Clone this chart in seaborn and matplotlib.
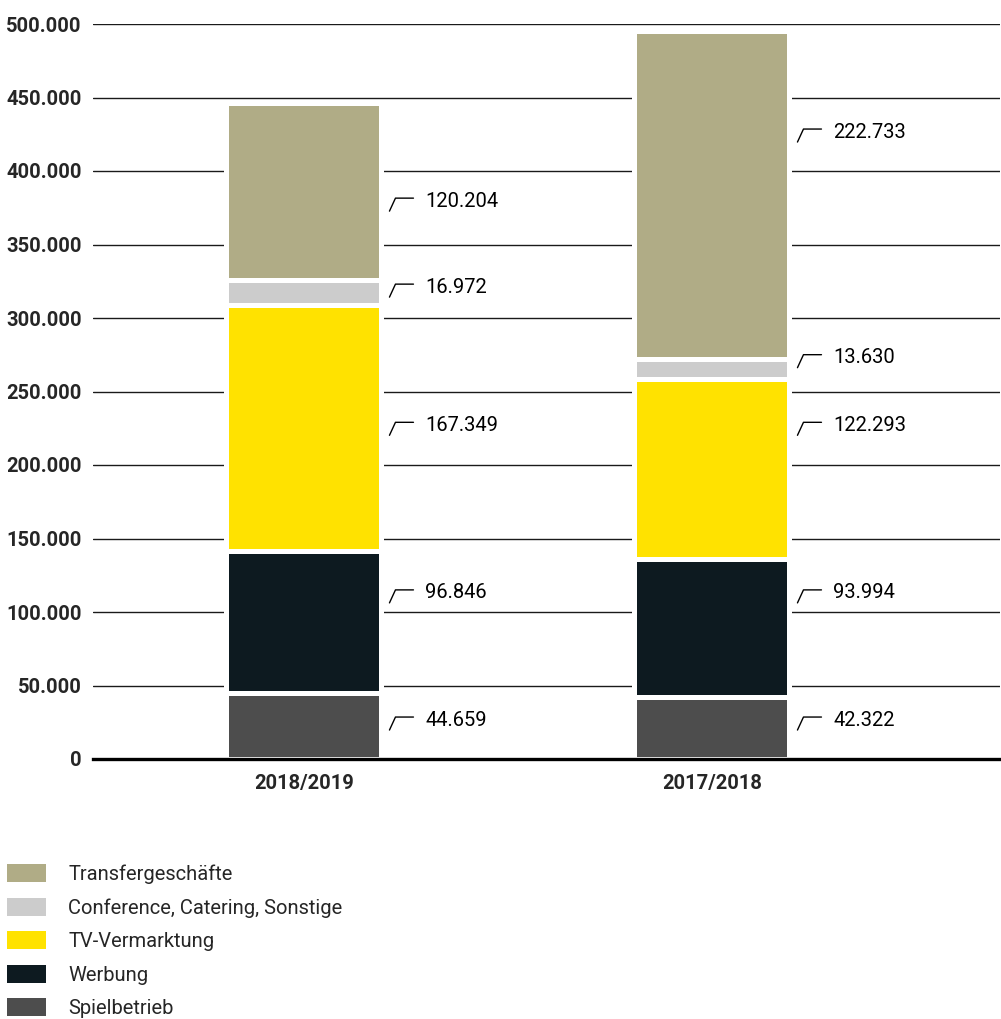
import numpy as np
import pandas as pd
import matplotlib
matplotlib.use("Agg")
import matplotlib.pyplot as plt
import matplotlib.transforms as mtransforms
from matplotlib.patches import Patch
import seaborn as sns

# ---------------- data ----------------
seasons = ["2018/2019", "2017/2018"]
categories = ["Spielbetrieb", "Werbung", "TV-Vermarktung",
              "Conference, Catering, Sonstige", "Transfergeschäfte"]
values_2018_2019 = [44659, 96846, 167349, 16972, 120204]
values_2017_2018 = [42322, 93994, 122293, 13630, 222733]
# vertical anchor of each value label (data units)
label_y_2018_2019 = [26500, 113000, 227000, 321000, 379500]
label_y_2017_2018 = [26500, 113000, 227000, 273000, 426500]
colors = ["#4d4d4d", "#0d1a20", "#ffe200", "#cccccc", "#b0ac86"]
yticks = list(range(0, 500001, 50000))

# ---------------- style ----------------
sns.set_style("white")
plt.rcParams["font.family"] = ["Roboto", "DejaVu Sans"]

W, H, DPI = 1001, 1019, 100
fig = plt.figure(figsize=(W / DPI, H / DPI), dpi=DPI)
ax = fig.add_axes([93 / W, 1 - 759 / H, (1000 - 93) / W, (759 - 24) / H])

rows = []
for s, vals in zip(seasons, [values_2018_2019, values_2017_2018]):
    cum = np.cumsum(vals)
    for c, v, cv in zip(categories, vals, cum):
        rows.append(dict(season=s, category=c, value=v, cum=cv))
df = pd.DataFrame(rows)

bar_w = 0.38
# draw cumulative bars from top category down so they stack
for c, col in reversed(list(zip(categories, colors))):
    sub = df[df.category == c]
    sns.barplot(data=sub, x="season", y="cum", order=seasons, color=col,
                saturation=1, width=bar_w, edgecolor="white", linewidth=3.6,
                errorbar=None, ax=ax, zorder=2)

ax.set_xlim(-0.517, 1.706)
ax.set_ylim(0, 500000)
ax.set_yticks(yticks)
ax.set_yticklabels([f"{v:,}".replace(",", ".") for v in yticks],
                   fontsize=14.5, fontweight="bold")
ax.set_xticks(range(len(seasons)))
ax.set_xticklabels(seasons, fontsize=14.5, fontweight="bold")
ax.tick_params(axis="both", length=0)
ax.tick_params(axis="y", pad=8)
ax.tick_params(axis="x", pad=11)
ax.set_xlabel("")
ax.set_ylabel("")
ax.yaxis.grid(True, color="#1a1a1a", linewidth=1.0)
ax.set_axisbelow(True)
for sp in ["top", "left", "right"]:
    ax.spines[sp].set_visible(False)
ax.spines["bottom"].set_color("black")
ax.spines["bottom"].set_linewidth(2.4)
ax.spines["bottom"].set_zorder(5)

# ---------------- value labels with leader marks ----------------
fig.canvas.draw()
for i, (vals, ly) in enumerate(zip([values_2018_2019, values_2017_2018],
                                  [label_y_2018_2019, label_y_2017_2018])):
    xr = i + bar_w / 2
    for v, yv in zip(vals, ly):
        px, py = ax.transData.transform((xr, yv))
        tr = mtransforms.Affine2D().translate(px, py)
        ax.add_line(plt.Line2D([8, 14, 32], [-10, 3, 3], transform=tr,
                               color="black", linewidth=1.0, clip_on=False))
        ax.annotate(f"{v:,}".replace(",", "."), xy=(xr, yv), xycoords="data",
                    xytext=(44, 0), textcoords="offset pixels",
                    ha="left", va="center", fontsize=14.5, color="black")

# ---------------- legend ----------------
handles = [Patch(facecolor=c, edgecolor="none") for c in reversed(colors)]
fig.legend(handles, list(reversed(categories)), loc="upper left",
           bbox_to_anchor=(7 / W, 1 - 864 / H), frameon=False,
           fontsize=14.5, handlelength=1.94, handleheight=1.0,
           handletextpad=1.1, labelspacing=0.68, borderpad=0,
           borderaxespad=0)

fig.savefig("out.png", dpi=DPI, facecolor="white")
